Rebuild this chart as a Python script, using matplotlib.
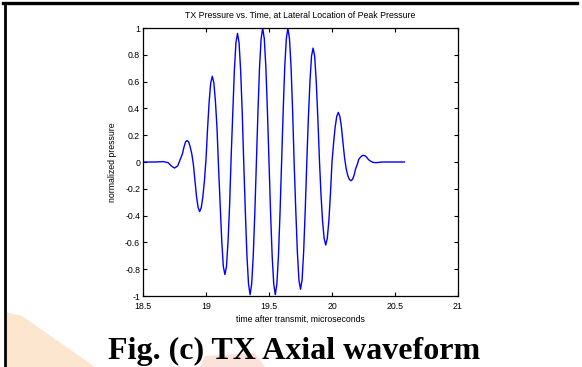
"""
TX axial waveform - pressure vs. time at lateral peak location
"""
import matplotlib
matplotlib.use('Agg')
import matplotlib.pyplot as plt
from matplotlib.patches import Polygon
from matplotlib.lines import Line2D

# waveform samples (time in us, normalized pressure)
time_us = [18.50, 18.60, 18.66, 18.70, 18.725, 18.75, 18.775,
           18.80, 18.8125, 18.825, 18.8375, 18.85, 18.8625, 18.875, 18.8875,
           18.90, 18.9125, 18.925, 18.9375, 18.95, 18.9625, 18.975, 18.9875,
           19.00, 19.0125, 19.025, 19.0375, 19.05, 19.0625, 19.075, 19.0875,
           19.10, 19.1125, 19.125, 19.1375, 19.15, 19.1625, 19.175, 19.1875,
           19.20, 19.2125, 19.225, 19.2375, 19.25, 19.2625, 19.275, 19.2875,
           19.30, 19.3125, 19.325, 19.3375, 19.35, 19.3625, 19.375, 19.3875,
           19.40, 19.4125, 19.425, 19.4375, 19.45, 19.4625, 19.475, 19.4875,
           19.50, 19.5125, 19.525, 19.5375, 19.55, 19.5625, 19.575, 19.5875,
           19.60, 19.6125, 19.625, 19.6375, 19.65, 19.6625, 19.675, 19.6875,
           19.70, 19.7125, 19.725, 19.7375, 19.75, 19.7625, 19.775, 19.7875,
           19.80, 19.8125, 19.825, 19.8375, 19.85, 19.8625, 19.875, 19.8875,
           19.90, 19.9125, 19.925, 19.9375, 19.95, 19.9625, 19.975, 19.9875,
           20.00, 20.0125, 20.025, 20.0375, 20.05, 20.0625, 20.075, 20.0875,
           20.10, 20.1125, 20.125, 20.1375, 20.15, 20.1625, 20.175, 20.1875,
           20.20, 20.2125, 20.225, 20.2375, 20.25, 20.2625, 20.275, 20.2875,
           20.30, 20.325, 20.35, 20.40, 20.575]
pressure = [0.0, 0.0, 0.003, -0.005, -0.03, -0.045, -0.03,
            0.03, 0.06, 0.11, 0.15, 0.16, 0.15, 0.11, 0.06,
            -0.02, -0.14, -0.26, -0.34, -0.37, -0.34, -0.26, -0.14,
            0.02, 0.25, 0.45, 0.59, 0.64, 0.59, 0.45, 0.25,
            -0.05, -0.32, -0.59, -0.78, -0.84, -0.78, -0.59, -0.32,
            0.05, 0.37, 0.68, 0.89, 0.96, 0.89, 0.68, 0.37,
            -0.02, -0.38, -0.70, -0.91, -0.99, -0.91, -0.70, -0.38,
            0.0, 0.38, 0.71, 0.92, 1.00, 0.92, 0.71, 0.38,
            0.0, -0.38, -0.70, -0.91, -0.99, -0.91, -0.70, -0.38,
            0.0, 0.38, 0.71, 0.92, 1.00, 0.92, 0.71, 0.38,
            -0.02, -0.36, -0.67, -0.88, -0.95, -0.88, -0.67, -0.36,
            0.0, 0.33, 0.60, 0.79, 0.85, 0.79, 0.60, 0.33,
            0.02, -0.24, -0.44, -0.57, -0.62, -0.57, -0.44, -0.24,
            0.0, 0.14, 0.26, 0.34, 0.37, 0.34, 0.26, 0.14,
            0.03, -0.05, -0.10, -0.13, -0.14, -0.13, -0.10, -0.05,
            -0.02, 0.02, 0.035, 0.046, 0.05, 0.046, 0.035, 0.02,
            0.01, -0.003, -0.005, 0.0, 0.0]

x_ticks = [18.5, 19, 19.5, 20, 20.5, 21]
x_tick_labels = ['18.5', '19', '19.5', '20', '20.5', '21']
y_ticks = [-1, -0.8, -0.6, -0.4, -0.2, 0, 0.2, 0.4, 0.6, 0.8, 1]
y_tick_labels = ['-1', '-0.8', '-0.6', '-0.4', '-0.2', '0', '0.2', '0.4', '0.6', '0.8', '1']

plt.rcParams['font.family'] = ['Liberation Sans', 'DejaVu Sans']
plt.rcParams['axes.unicode_minus'] = False

W, H = 582, 367
fig = plt.figure(figsize=(W / 100, H / 100), dpi=100)

# faint watermark shapes at the bottom left
fig.patches.append(Polygon([(5 / W, 1 - 312 / H), (22 / W, 1 - 316 / H), (95 / W, 0), (5 / W, 0)],
                           closed=True, transform=fig.transFigure, facecolor='#fde6cf',
                           edgecolor='none', zorder=0))
fig.patches.append(Polygon([(205 / W, 1 - 356 / H), (255 / W, 1 - 353 / H), (265 / W, 0), (200 / W, 0)],
                           closed=True, transform=fig.transFigure, facecolor='#fbe3dc',
                           edgecolor='none', zorder=0))

# page border lines (top and left)
fig.add_artist(Line2D([3 / W, 577 / W], [1 - 3 / H, 1 - 3 / H], transform=fig.transFigure,
                      color='black', linewidth=2.4))
fig.add_artist(Line2D([4.5 / W, 4.5 / W], [0, 1 - 3 / H], transform=fig.transFigure,
                      color='black', linewidth=2.0))

ax = fig.add_axes([143 / W, 1 - 296 / H, 315 / W, 268 / H])
ax.plot(time_us, pressure, color='#0000ff', linewidth=1.0)

ax.set_xlim(18.5, 21)
ax.set_ylim(-1, 1)
ax.set_xticks(x_ticks)
ax.set_xticklabels(x_tick_labels)
ax.set_yticks(y_ticks)
ax.set_yticklabels(y_tick_labels)
ax.tick_params(direction='in', length=3, width=0.8, labelsize=6.3, pad=2,
               top=True, right=True)
ax.tick_params(axis='x', pad=4)
for s in ax.spines.values():
    s.set_linewidth(0.9)

ax.set_title('TX Pressure vs. Time, at Lateral Location of Peak Pressure', fontsize=6.3, pad=7)
ax.set_xlabel('time after transmit, microseconds', fontsize=6.3, labelpad=3)
ax.set_ylabel('normalized pressure', fontsize=6.3, labelpad=6)

fig.text(294 / W, 1 - 351 / H, 'Fig. (c) TX Axial waveform', ha='center', va='center',
         fontsize=23, fontweight='bold', family='Liberation Serif')

fig.savefig('out.png', dpi=100, facecolor='white')
